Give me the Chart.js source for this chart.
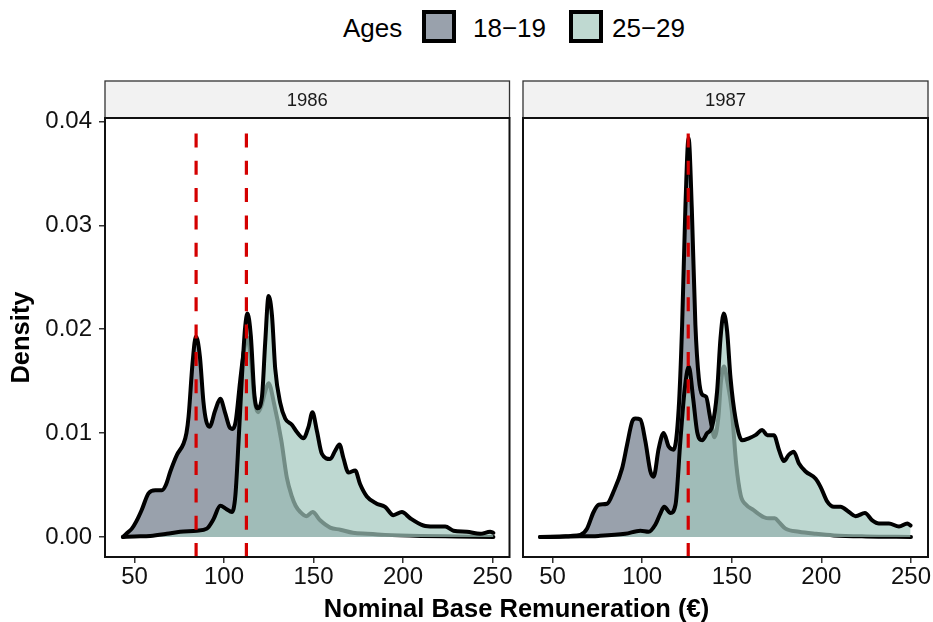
<!DOCTYPE html>
<html>
<head>
<meta charset="utf-8">
<script src="https://cdn.jsdelivr.net/npm/chart.js@4.4.1/dist/chart.umd.min.js"></script>
<style>
body { margin: 0; background: #fff; }
#wrap { position: relative; width: 933px; height: 622px; font-family: "Liberation Sans", Arial, sans-serif; color: #000; }
canvas { position: absolute; top: 0; }
.lg { position: absolute; top: 10px; height: 36px; line-height: 36px; font-size: 26px; white-space: nowrap; }
.key { position: absolute; top: 10px; width: 34px; height: 33px; border: 4px solid #000; box-sizing: border-box; }
#xtitle { position: absolute; left: 105px; width: 823px; top: 593px; text-align: center; font-weight: bold; font-size: 25.5px; line-height: 30px; white-space: nowrap; }
</style>
</head>
<body>
<div id="wrap">
  <div class="lg" style="left:343px">Ages</div>
  <div class="key" style="left:422px;background:#99a1ac"></div>
  <div class="lg" id="lab0" style="left:473px"></div>
  <div class="key" style="left:569px;background:#bfd9d1"></div>
  <div class="lg" id="lab1" style="left:612px"></div>
  <canvas id="c1986" width="516" height="622" style="left:0"></canvas>
  <canvas id="c1987" width="417" height="622" style="left:516px"></canvas>
  <div id="xtitle">Nominal Base Remuneration (€)</div>
</div>
<script>
// axis ticks
const xTicks = [50, 100, 150, 200, 250];
const yTicks = [0, 0.01, 0.02, 0.03, 0.04];
const ageGroups = ["18\u221219", "25\u221229"];
const years = ["1986", "1987"];

// density curves (x = remuneration, y = density)
const x1986Young = [43.5, 46, 48.5, 51, 54, 57.8, 61.6, 65.3, 67.5, 70, 73.7, 77.4, 79, 80.2, 82.4, 84.3, 86.5, 88.5, 90, 91.9,
  95.1, 97.9, 100.7, 103, 104.8, 106.5, 109, 111, 113, 115, 117, 119, 121, 123, 124.9, 128, 132, 135.1, 137.9, 140,
  142.6, 146, 149.5, 153.7, 159.3, 165, 172, 180, 190, 210, 230, 250.5];
const y1986Young = [0, 0.0004, 0.0008, 0.0015, 0.0026, 0.0042, 0.0045, 0.0045, 0.0050, 0.0063, 0.0079, 0.0090, 0.0100, 0.0116, 0.0167, 0.0193, 0.0174, 0.0130, 0.0112, 0.0106,
  0.0122, 0.0133, 0.0119, 0.0106, 0.0104, 0.0111, 0.0150, 0.0178, 0.0192, 0.0172, 0.0132, 0.0120, 0.0127, 0.0140, 0.0148, 0.0128, 0.0093, 0.0057, 0.0039, 0.0030,
  0.0024, 0.0020, 0.0024, 0.0016, 0.0009, 0.0007, 0.0004, 0.0003, 0.0002, 0.0001, 0.00005, 0];

const x1986Old = [43.5, 50, 58.8, 68, 75.5, 84.8, 90.4, 94.1, 97.9, 101.2, 104.4, 106.3, 108.1, 110, 111.8, 113.1, 115, 116.9, 118.7, 121.2,
  123, 124.9, 126.8, 128.6, 131.4, 134.2, 137.9, 140.7, 144.4, 147.2, 149.4, 151.9, 154.7, 159.3, 162.1, 164.5, 166.7, 169.5, 173.3, 176,
  179.8, 185.3, 190, 194.6, 199.4, 204, 211.4, 217, 223.6, 228.2, 235.7, 243.1, 248.7, 250.5];
const y1986Old = [0, 0.00005, 0.0001, 0.0003, 0.0005, 0.0006, 0.0008, 0.0017, 0.0030, 0.0027, 0.0024, 0.0039, 0.0091, 0.0154, 0.0202, 0.0215, 0.0193, 0.0138, 0.0124, 0.0135,
  0.0187, 0.0232, 0.0213, 0.0162, 0.0129, 0.0114, 0.0108, 0.0101, 0.0095, 0.0106, 0.0120, 0.0102, 0.0080, 0.0075, 0.0083, 0.0089, 0.0076, 0.0062, 0.0064, 0.0051,
  0.0039, 0.0032, 0.0029, 0.0021, 0.0024, 0.0018, 0.0011, 0.0010, 0.0010, 0.0006, 0.0005, 0.0003, 0.0005, 0.0004];

const x1987Young = [43, 54, 60, 65.5, 69.2, 72.9, 75.7, 80.4, 84.1, 88.8, 91.6, 94.4, 96.2, 99, 101.8, 104.6, 106.4, 109.2, 112, 114.8,
  117.6, 120.4, 122.3, 124.1, 125.9, 127.7, 129.7, 131.6, 133.5, 135.7, 137.7, 139, 140.3, 142.5, 144, 145.7, 147.5, 150, 152.5, 155,
  158, 162, 168, 171, 174, 176.5, 180, 187.5, 197, 207, 225, 250];
const y1987Young = [0, 0.00002, 0.0001, 0.0002, 0.0008, 0.0024, 0.0031, 0.0032, 0.0044, 0.0066, 0.0089, 0.0111, 0.0114, 0.0113, 0.0092, 0.0063, 0.0058, 0.0085, 0.0100, 0.0087,
  0.0084, 0.0124, 0.0204, 0.0316, 0.0384, 0.0316, 0.0204, 0.0153, 0.0137, 0.0135, 0.0117, 0.0105, 0.0096, 0.0115, 0.0150, 0.0164, 0.0150, 0.0122, 0.0070, 0.0040,
  0.0031, 0.0026, 0.0019, 0.0018, 0.0018, 0.0014, 0.0008, 0.0005, 0.0003, 0.00015, 0.00005, 0];

const x1987Old = [43, 60, 75.7, 90.6, 99, 103.6, 107.4, 110, 112.3, 115.8, 118.6, 121.3, 123.6, 126, 128.4, 130.7, 133.5, 136.3, 139, 141.8,
  143.7, 145.5, 147.4, 149.3, 152.1, 155.8, 159.5, 163.2, 167, 169.8, 173.5, 176.3, 179.1, 181.8, 184.6, 187.4, 191.2, 196.8, 199.6, 203.3,
  207, 210.7, 215.4, 219.1, 224.3, 228.4, 232.1, 237.7, 243.3, 248, 249.8];
const y1987Old = [0, 0.00005, 0.0001, 0.0003, 0.0006, 0.0005, 0.0012, 0.0022, 0.0029, 0.0023, 0.0031, 0.0092, 0.0140, 0.0164, 0.0134, 0.0101, 0.0093, 0.0100, 0.0106, 0.0140,
  0.0191, 0.0215, 0.0198, 0.0153, 0.0114, 0.0093, 0.0095, 0.0098, 0.0103, 0.0098, 0.0098, 0.0084, 0.0073, 0.0079, 0.0082, 0.0071, 0.0063, 0.0056, 0.0048, 0.0034,
  0.0029, 0.0029, 0.0024, 0.0020, 0.0023, 0.0016, 0.0013, 0.0013, 0.0010, 0.0013, 0.0011];

// dashed reference lines (minimum wage)
const vlines1986 = [84.4, 112.5];
const vlines1987 = [125.7];

const fills = ["rgba(109,121,137,0.7)", "rgba(163,200,189,0.7)"];

document.getElementById("lab0").textContent = ageGroups[0];
document.getElementById("lab1").textContent = ageGroups[1];

Chart.defaults.font.family = "'Liberation Sans', Arial, sans-serif";

function toPoints(xs, ys) {
    return xs.map((x, i) => ({ x: x, y: ys[i] }));
}

// strip, panel border and red dashed lines
const facetPlugin = {
    id: "facet",
    afterDatasetsDraw(chart, args, opts) {
        const ctx = chart.ctx;
        const a = chart.chartArea;
        const x = chart.scales.x;
        ctx.save();
        ctx.beginPath();
        ctx.rect(a.left, a.top + 5, a.right - a.left, a.bottom - a.top - 5);
        ctx.clip();
        ctx.strokeStyle = "#d40000";
        ctx.lineWidth = 3.2;
        ctx.setLineDash([14, 13.3]);
        opts.vlines.forEach(v => {
            const px = x.getPixelForValue(v);
            ctx.beginPath();
            ctx.moveTo(px, a.bottom);
            ctx.lineTo(px, a.top);
            ctx.stroke();
        });
        ctx.restore();
    },
    afterDraw(chart, args, opts) {
        const ctx = chart.ctx;
        const a = chart.chartArea;
        ctx.save();
        // strip
        ctx.fillStyle = "#f2f2f2";
        ctx.fillRect(a.left, 81, a.right - a.left, a.top - 81);
        ctx.strokeStyle = "#333";
        ctx.lineWidth = 1.3;
        ctx.strokeRect(a.left, 81, a.right - a.left, a.top - 81);
        ctx.fillStyle = "#1a1a1a";
        ctx.font = "18.5px 'Liberation Sans', Arial, sans-serif";
        ctx.textAlign = "center";
        ctx.textBaseline = "middle";
        ctx.fillText(opts.label, (a.left + a.right) / 2, (81 + a.top) / 2 + 1);
        // panel border
        ctx.strokeStyle = "#111";
        ctx.lineWidth = 2;
        ctx.strokeRect(a.left, a.top, a.right - a.left, a.bottom - a.top);
        ctx.restore();
    }
};

function makePanel(id, year, young, old, vlines, showY, pad) {
    return new Chart(document.getElementById(id), {
        type: "line",
        data: {
            datasets: [
                { label: ageGroups[1], data: old, order: 0, fill: "origin", backgroundColor: fills[1], borderColor: "#000",
                  borderWidth: 4, pointRadius: 0, cubicInterpolationMode: "monotone", borderJoinStyle: "round", borderCapStyle: "round" },
                { label: ageGroups[0], data: young, order: 1, fill: "origin", backgroundColor: fills[0], borderColor: "#000",
                  borderWidth: 4, pointRadius: 0, cubicInterpolationMode: "monotone", borderJoinStyle: "round", borderCapStyle: "round" }
            ]
        },
        options: {
            responsive: false,
            animation: false,
            devicePixelRatio: 1,
            layout: { padding: pad },
            plugins: {
                legend: { display: false },
                tooltip: { enabled: false },
                facet: { label: year, vlines: vlines }
            },
            scales: {
                x: {
                    type: "linear",
                    min: 33.5,
                    max: 259.5,
                    afterBuildTicks: s => { s.ticks = xTicks.map(v => ({ value: v })); },
                    afterFit: s => { s.height = 40; },
                    border: { display: false },
                    grid: { drawOnChartArea: false, drawTicks: true, tickLength: 6, color: "#333", lineWidth: 1.5 },
                    ticks: { font: { size: 24 }, color: "#111", padding: 0, maxRotation: 0, autoSkip: false }
                },
                y: {
                    display: showY,
                    min: -0.00193,
                    max: 0.04033,
                    afterBuildTicks: s => { s.ticks = yTicks.map(v => ({ value: v })); },
                    afterFit: s => { s.width = showY ? 105 : 0; },
                    border: { display: false },
                    grid: { drawOnChartArea: false, drawTicks: true, tickLength: 6, color: "#333", lineWidth: 1.5 },
                    ticks: { font: { size: 24 }, color: "#111", padding: 7, callback: v => v.toFixed(2) },
                    title: { display: true, text: "Density", color: "#000", font: { size: 25.5, weight: "bold" }, padding: { top: 7, bottom: 0 } }
                }
            }
        },
        plugins: [facetPlugin]
    });
}

makePanel("c1986", years[0], toPoints(x1986Young, y1986Young), toPoints(x1986Old, y1986Old), vlines1986, true,
    { top: 118, left: 0, right: 6.5, bottom: 25 });
makePanel("c1987", years[1], toPoints(x1987Young, y1987Young), toPoints(x1987Old, y1987Old), vlines1987, false,
    { top: 118, left: 7, right: 5, bottom: 25 });
</script>
</body>
</html>
